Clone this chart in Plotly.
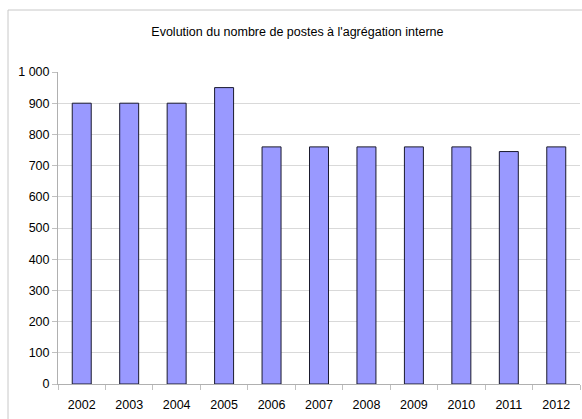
import plotly.graph_objects as go

years = ["2002", "2003", "2004", "2005", "2006", "2007", "2008", "2009", "2010", "2011", "2012"]
postes = [900, 900, 900, 950, 760, 760, 760, 760, 760, 745, 760]
y_ticks = [0, 100, 200, 300, 400, 500, 600, 700, 800, 900, 1000]
y_labels = ["0", "100", "200", "300", "400", "500", "600", "700", "800", "900", "1 000"]
grid_vals = [100, 200, 300, 400, 500, 600, 700, 800, 900]
title = "Evolution du nombre de postes à l'agrégation interne"

fig = go.Figure(go.Bar(
    x=years, y=postes,
    marker=dict(color="#9999FF", line=dict(color="#1a1a2e", width=1)),
))

L, R, T, B = 58, 2, 72, 35
W, H = 582, 419
pw, ph = W - L - R, H - T - B

regular = "Liberation Sans, Arial, sans-serif"
fig.update_layout(
    width=W, height=H,
    margin=dict(l=L, r=R, t=T, b=B),
    paper_bgcolor="white", plot_bgcolor="white",
    bargap=0.6,
    showlegend=False,
    font=dict(family=regular, size=12, color="black"),
    title=dict(text=title, x=0.511, xanchor="center", xref="container",
               y=1 - 32 / H, yanchor="middle", yref="container",
               font=dict(family=regular, size=12.5, color="black")),
    xaxis=dict(type="category", showgrid=False, showline=True, linecolor="#b0b0b0",
               linewidth=1, ticks="outside", tickson="boundaries", ticklen=5,
               tickcolor="#c0c0c0", tickfont=dict(size=12.5), ticklabelstandoff=9,
               range=[-0.5, 10.5]),
    yaxis=dict(range=[0, 1000], tickvals=y_ticks, ticktext=y_labels,
               showgrid=False,
               minor=dict(tickvals=grid_vals, showgrid=True, gridcolor="#d9d9d9",
                          gridwidth=1, ticks=""),
               showline=True, linecolor="#b0b0b0", linewidth=1,
               ticks="outside", ticklen=5, tickcolor="#c0c0c0",
               zeroline=False, tickfont=dict(size=12.5)),
    shapes=[
        dict(type="rect", xref="paper", yref="paper",
             x0=(8 - L) / pw, x1=(590 - L) / pw,
             y0=-0.2, y1=1 + (T - 10) / ph,
             line=dict(color="#c8c8c8", width=1), layer="below"),
    ],
)

fig.write_html("out.html", config={"displayModeBar": False},
               post_script="document.body.style.margin='0';document.body.style.overflow='hidden';")
